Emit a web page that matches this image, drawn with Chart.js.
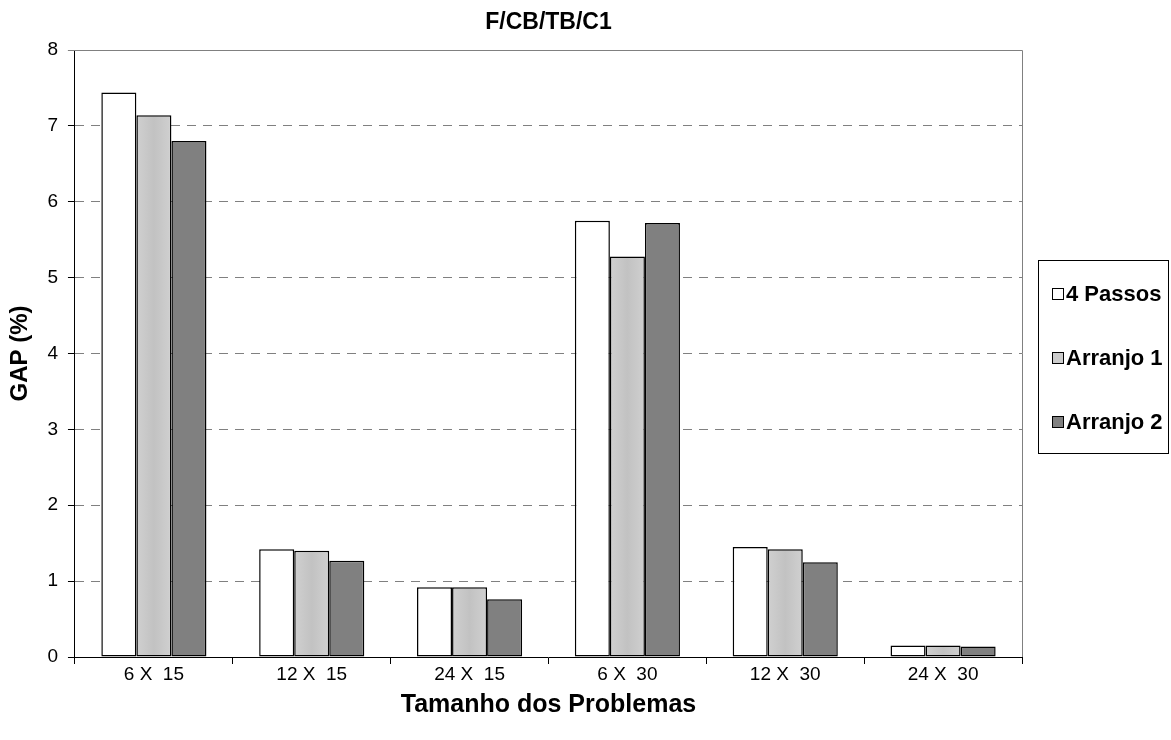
<!DOCTYPE html>
<html>
<head>
<meta charset="utf-8">
<script src="https://cdn.jsdelivr.net/npm/chart.js@4"></script>
<style>
  html, body { margin: 0; padding: 0; background: #fff; }
  #box { width: 1171px; height: 740px; }
</style>
</head>
<body>
<div id="box"><canvas id="myChart" width="1171" height="740"></canvas></div>
<script>
'use strict';

var categories = ['6 X  15', '12 X  15', '24 X  15', '6 X  30', '12 X  30', '24 X  30'];
var seriesNames = ['4 Passos', 'Arranjo 1', 'Arranjo 2'];
var passos4 = [7.44, 1.42, 0.92, 5.75, 1.45, 0.15];
var arranjo1 = [7.14, 1.40, 0.92, 5.28, 1.42, 0.15];
var arranjo2 = [6.80, 1.27, 0.76, 5.72, 1.25, 0.14];
var yTicks = [0, 1, 2, 3, 4, 5, 6, 7, 8];

var FONT = '"Liberation Sans", Arial, sans-serif';

// light gray bars get a soft darker middle, like the original
function grayShade(ctx) {
  var el = ctx.chart.getDatasetMeta(ctx.datasetIndex).data[ctx.dataIndex];
  if (!el || !isFinite(el.x) || !el.width) return '#cccccc';
  var c = ctx.chart.ctx;
  var g = c.createLinearGradient(el.x - el.width / 2, 0, el.x + el.width / 2, 0);
  g.addColorStop(0, '#d0d0d0');
  g.addColorStop(0.5, '#c2c2c2');
  g.addColorStop(1, '#d0d0d0');
  return g;
}

// gray frame on top and right of plot area + boxed legend
var frameAndLegend = {
  id: 'frameAndLegend',
  afterDraw: function(chart) {
    var c = chart.ctx;
    var a = chart.chartArea;
    c.save();
    c.strokeStyle = '#808080';
    c.lineWidth = 1;
    c.beginPath();
    c.moveTo(a.left - 7, a.top + 0.5);
    c.lineTo(a.right + 0.5, a.top + 0.5);
    c.lineTo(a.right + 0.5, a.bottom);
    c.stroke();

    // legend
    var lx = 1038, ly = 260, lw = 130, lh = 193;
    c.strokeStyle = '#000';
    c.strokeRect(lx + 0.5, ly + 0.5, lw, lh);
    c.font = 'bold 22px ' + FONT;
    c.textBaseline = 'middle';
    c.textAlign = 'left';
    var fills = ['#ffffff', '#cccccc', '#808080'];
    for (var i = 0; i < seriesNames.length; i++) {
      var y = 294 + i * 64;
      c.fillStyle = fills[i];
      c.fillRect(1052.5, y - 5.5, 11, 11);
      c.strokeStyle = '#000';
      c.strokeRect(1052.5, y - 5.5, 11, 11);
      c.fillStyle = '#000';
      c.fillText(chart.data.datasets[i].label, 1066, y + 1);
    }
    c.restore();
  }
};

var ctx = document.getElementById('myChart');

var myChart = new Chart(ctx, {
  type: 'bar',
  data: {
    labels: categories,
    datasets: [{
      label: seriesNames[0],
      data: passos4,
      backgroundColor: '#ffffff'
    }, {
      label: seriesNames[1],
      data: arranjo1,
      backgroundColor: grayShade
    }, {
      label: seriesNames[2],
      data: arranjo2,
      backgroundColor: '#808080'
    }]
  },
  options: {
    responsive: false,
    animation: false,
    devicePixelRatio: 1,
    layout: { padding: { left: 0, right: 149, top: 0, bottom: 0 } },
    datasets: {
      bar: {
        borderColor: '#000',
        borderWidth: 1.5,
        borderSkipped: false,
        categoryPercentage: 0.666,
        barPercentage: 1
      }
    },
    plugins: {
      legend: { display: false },
      tooltip: { enabled: false },
      title: {
        display: true,
        fullSize: false,
        text: 'F/CB/TB/C1',
        color: '#000',
        font: { family: FONT, size: 23, weight: 'bold', lineHeight: 1 },
        padding: { top: 11, bottom: 16 }
      }
    },
    scales: {
      x: {
        offset: true,
        grid: {
          offset: true,
          drawOnChartArea: false,
          tickLength: 7,
          tickColor: '#000'
        },
        border: { color: '#000', width: 1 },
        ticks: {
          color: '#000',
          font: { family: FONT, size: 19, lineHeight: 1 },
          padding: 1,
          maxRotation: 0
        },
        title: {
          display: true,
          text: 'Tamanho dos Problemas',
          color: '#000',
          font: { family: FONT, size: 25, weight: 'bold', lineHeight: 1 },
          padding: { top: 7.5, bottom: 22.5 }
        }
      },
      y: {
        min: yTicks[0],
        max: yTicks[yTicks.length - 1],
        afterBuildTicks: function(scale) {
          scale.ticks = yTicks.map(function(v) { return { value: v }; });
        },
        grid: {
          color: '#808080',
          tickBorderDash: [],
          tickColor: '#000',
          tickLength: 7
        },
        border: { color: '#000', width: 1, dash: [9, 7] },
        ticks: {
          color: '#000',
          font: { family: FONT, size: 19, lineHeight: 1 },
          padding: 10
        },
        title: {
          display: true,
          text: 'GAP (%)',
          color: '#000',
          font: { family: FONT, size: 24, weight: 'bold', lineHeight: 1 },
          padding: { top: 8, bottom: 5.4 }
        }
      }
    }
  },
  plugins: [frameAndLegend]
});

// second pass so the gradient knows where each bar sits
myChart.update('none');
</script>
</body>
</html>
